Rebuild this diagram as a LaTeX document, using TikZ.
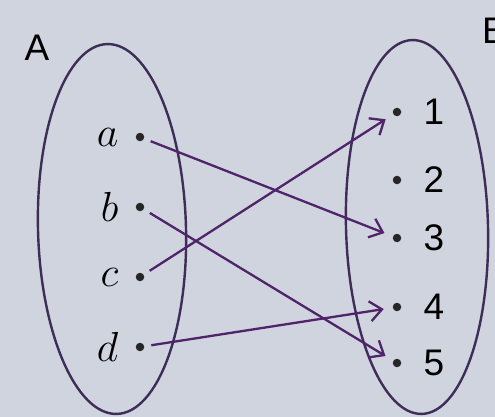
\documentclass[tikz,border=0pt]{standalone}
\usepackage{fix-cm}
\usepackage{fontspec}
\setsansfont{Liberation Sans}
\usetikzlibrary{arrows.meta,shapes.geometric}
\definecolor{paper}{RGB}{208,212,222}
\definecolor{setline}{RGB}{62,45,88}
\definecolor{maparrow}{RGB}{80,36,106}
\tikzset{setbox/.style={ellipse,draw=setline,line width=2.4pt,inner sep=0pt,rotate=1.5},
  elem/.style={circle,fill=black!85,inner sep=0pt,minimum size=8.5pt},
  big/.style={font=\fontsize{37}{40}\selectfont\sffamily,inner sep=0pt},
  maps/.style={draw=maparrow,line width=2.3pt,shorten <=7pt,shorten >=9pt,
    -{Straight Barb[length=12pt,width=20pt,line width=2.3pt]}}}

\begin{document}
\begin{tikzpicture}[x=1pt,y=-1pt,line join=round]
\fill[paper] (0,0) rectangle (495,417);
\useasboundingbox (0,0) rectangle (495,417);
% --- the two sets
\node[setbox,minimum width=148pt,minimum height=370pt] (setA) at (112,229) {};
\node[setbox,minimum width=142pt,minimum height=374pt] (setB) at (417,227) {};
\node[big] (nameA) at (37,48) {A};
\node[big,anchor=west] (nameB) at (482,31) {B};
% --- elements
\foreach \n/\y in {a/137,b/207,c/277,d/347}
  \node[elem,label={[big,font=\fontsize{42}{44}\selectfont,label distance=17pt]left:$\n$}] (\n) at (140,\y) {};
\foreach \n/\y in {1/112,2/180,3/238,4/307,5/363}
  \node[elem,label={[big,label distance=22pt]right:\n}] (n\n) at (397,\y) {};
% --- the mapping
\foreach \s/\t in {a/3,b/5,c/1,d/4} \draw[maps] (\s) -- (n\t);
\end{tikzpicture}
\end{document}
